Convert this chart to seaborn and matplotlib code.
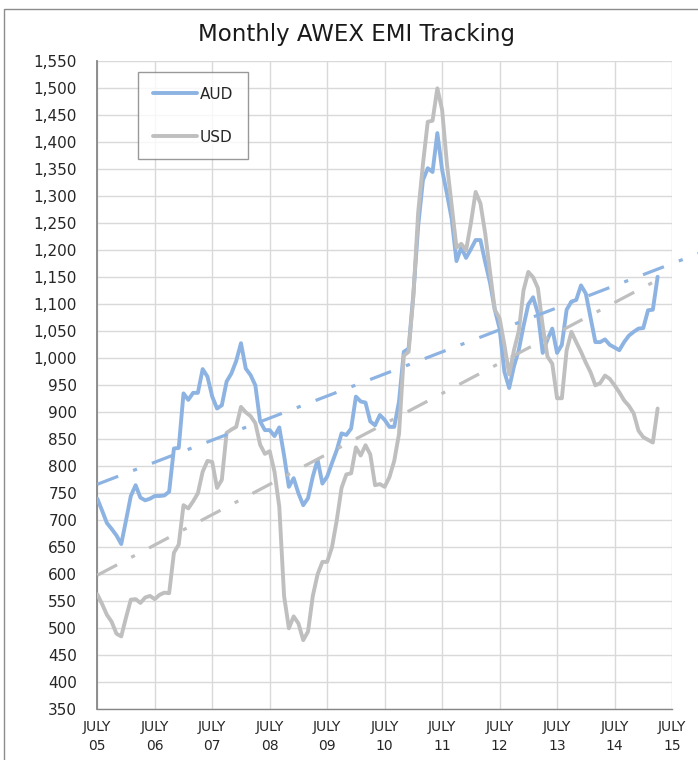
import numpy as np
import pandas as pd
import matplotlib
matplotlib.use("Agg")
import matplotlib.pyplot as plt
from matplotlib.lines import Line2D
from matplotlib.patches import Rectangle
import seaborn as sns

# ---- data (monthly, July 2005 .. April 2015) ----
aud = [740, 718, 695, 684, 672, 656, 700, 745, 765, 742, 737, 740,
       745, 745, 746, 753, 833, 834, 935, 923, 936, 936, 980, 966,
       929, 907, 913, 957, 972, 995, 1028, 981, 969, 950, 883, 867,
       867, 856, 872, 820, 762, 778, 750, 728, 741, 781, 812, 768,
       781, 806, 830, 861, 858, 870, 929, 920, 918, 883, 876, 895,
       886, 873, 873, 920, 1012, 1018, 1120, 1245, 1330, 1352, 1345, 1417,
       1349, 1305, 1258, 1180, 1205, 1186, 1202, 1219, 1219, 1178, 1140, 1090,
       1055, 975, 945, 985, 1015, 1060, 1100, 1113, 1083, 1010, 1035, 1055,
       1010, 1025, 1090, 1105, 1108, 1135, 1120, 1075, 1030, 1030, 1035, 1025,
       1020, 1015, 1030, 1042, 1049, 1055, 1056, 1089, 1090, 1151]
usd = [563, 545, 525, 512, 490, 485, 520, 553, 554, 547, 557, 560,
       554, 562, 566, 565, 640, 655, 728, 722, 735, 750, 790, 810,
       808, 760, 775, 862, 868, 873, 910, 900, 893, 880, 840, 823,
       828, 790, 725, 560, 500, 522, 509, 478, 494, 560, 600, 623,
       623, 650, 700, 760, 785, 787, 835, 820, 839, 822, 765, 767,
       762, 780, 810, 860, 1005, 1012, 1115, 1270, 1360, 1438, 1440, 1500,
       1460, 1360, 1283, 1205, 1212, 1200, 1250, 1308, 1287, 1231, 1160, 1090,
       1074, 1025, 970, 1015, 1050, 1126, 1160, 1150, 1130, 1060, 1003, 990,
       926, 926, 1015, 1049, 1030, 1012, 992, 974, 950, 954, 968, 962,
       950, 937, 922, 912, 898, 866, 854, 849, 844, 907]
tick_labels = ["JULY\n05", "JULY\n06", "JULY\n07", "JULY\n08", "JULY\n09", "JULY\n10",
               "JULY\n11", "JULY\n12", "JULY\n13", "JULY\n14", "JULY\n15"]
series_names = ["AUD", "USD"]

BLUE = "#8DB3E2"
GRAY = "#BFBFBF"

sns.set_theme(style="white")
plt.rcParams['font.family'] = ['DejaVu Sans']

W, H = 698, 760
fig = plt.figure(figsize=(W / 100, H / 100), dpi=100)
fig.patch.set_facecolor("white")
x0, x1 = 97.3, 672.0
y0, y1 = 709.3, 61.3
ax = fig.add_axes([x0 / W, 1 - y0 / H, (x1 - x0) / W, (y0 - y1) / H])

months = np.arange(len(aud))
df = pd.DataFrame({"month": months, "AUD": aud, "USD": usd})
long = df.melt(id_vars="month", var_name="series", value_name="value")

sns.lineplot(data=long, x="month", y="value", hue="series", hue_order=series_names,
             palette={"AUD": BLUE, "USD": GRAY}, linewidth=2.8, ax=ax,
             legend=False, zorder=3)

# linear trend lines (AUD projected forward, USD to end of data)
for vals, col, xend in [(aud, BLUE, 126), (usd, GRAY, 117)]:
    k, b = np.polyfit(months, vals, 1)
    xt = np.linspace(0, xend, 200)
    ax.plot(xt, k * xt + b, color=col, lw=2.3, dashes=(7.0, 5.0, 1.3, 5.0),
            clip_on=False, zorder=4)

ax.set_xlim(0, 120)
ax.set_ylim(350, 1550)
ax.set_xticks(np.arange(0, 121, 12))
ax.set_xticklabels(tick_labels, fontsize=10, color="#262626", linespacing=1.45)
yt = np.arange(350, 1551, 50)
ax.set_yticks(yt)
ax.set_yticklabels([f"{v:,}" for v in yt], fontsize=11, color="#262626")
ax.set_xlabel("")
ax.set_ylabel("")

ax.grid(True, color="#D9D9D9", lw=1.0)
ax.set_axisbelow(True)
for s in ["top", "right"]:
    ax.spines[s].set_visible(False)
ax.spines["left"].set_color("#868686")
ax.spines["bottom"].set_color("#868686")
ax.spines["left"].set_linewidth(1.3)
ax.spines["bottom"].set_linewidth(1.0)
ax.tick_params(axis="both", which="both", direction="out", length=5,
               color="#868686", width=1.0)
ax.tick_params(axis="y", pad=9.5)
ax.tick_params(axis="x", pad=3)

handles = [Line2D([0], [0], color=BLUE, lw=2.8), Line2D([0], [0], color=GRAY, lw=2.8)]
leg = fig.legend(handles, series_names, loc="upper left",
                 bbox_to_anchor=(138 / W, 1 - 72 / H), frameon=True, fancybox=False,
                 fontsize=11, handlelength=2.9, handletextpad=0.2,
                 labelspacing=1.85, borderpad=0.95, borderaxespad=0)
leg.get_frame().set_edgecolor("#808080")
leg.get_frame().set_linewidth(1.0)

fig.text(356 / W, 1 - 35 / H, "Monthly AWEX EMI Tracking", ha="center", va="center",
         fontsize=16.5, color="#1a1a1a")

fig.patches.append(Rectangle((4 / W, -0.1), 1.2, 1 - 9 / H + 0.1,
                             transform=fig.transFigure, fill=False,
                             edgecolor="#8c8c8c", lw=1.0))

fig.savefig("out.png", dpi=100)
